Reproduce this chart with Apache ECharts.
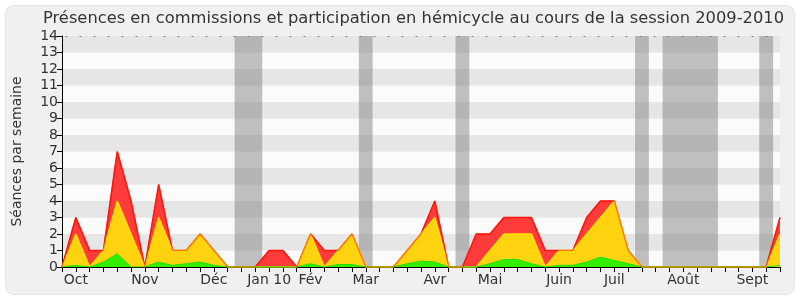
<!DOCTYPE html>
<html>
<head>
<meta charset="utf-8">
<script src="https://cdn.jsdelivr.net/npm/echarts@6/dist/echarts.min.js"></script>
<style>
html,body{margin:0;padding:0;background:#ffffff;}
#c{width:800px;height:300px;}
</style>
</head>
<body>
<div id="c"></div>
<script>
// Week indices 0..52 (session 2009-2010), labels at month starts
const monthLabels = {1:'Oct',6:'Nov',11:'Déc',15:'Jan 10',18:'Fév',22:'Mar',27:'Avr',31:'Mai',36:'Juin',40:'Juil',45:'Août',50:'Sept'};
const yTicks = [0,1,2,3,4,5,6,7,8,9,10,11,12,13,14];
// Vacation weeks (grey bands) as [from, to] in week units
const vacations = [[12.5,14.5],[21.5,22.5],[28.5,29.5],[41.5,42.5],[43.5,47.5],[50.5,51.5]];
// Total presences (red)
const presences = [0,3,1,1,7,4,0,5,1,1,2,1,0,0,0,1,1,0,2,1,1,2,0,0,0,1,2,4,0,0,2,2,3,3,3,1,1,1,3,4,4,1,0,0,0,0,0,0,0,0,0,0,3];
// Commission presences (yellow)
const commissions = [0,2,0,1,4,2,0,3,1,1,2,1,0,0,0,0,0,0,2,0,1,2,0,0,0,1,2,3,0,0,0,1,2,2,2,0,1,1,2,3,4,1,0,0,0,0,0,0,0,0,0,0,2];
// Hemicycle participation (green)
const hemicycle = [0,0.1,0,0.3,0.8,0,0,0.3,0.1,0.2,0.3,0.1,0,0,0,0,0,0,0.2,0,0.15,0.15,0,0,0,0.2,0.35,0.3,0,0,0,0.2,0.45,0.45,0.2,0,0.1,0.1,0.3,0.6,0.4,0.2,0,0,0,0,0,0,0,0,0,0,0.1];

const toPairs = arr => arr.map((v,i)=>[i,v]);
const chart = echarts.init(document.getElementById('c'));
const FONT = 'DejaVu Sans';
chart.setOption({
  backgroundColor: 'transparent',
  animation: false,
  graphic: [{
    type: 'rect', z: -10, silent: true,
    shape: {x: 5.5, y: 5.5, width: 789, height: 289, r: 8},
    style: {fill: '#f0f0f0', stroke: '#e4e4e4', lineWidth: 1}
  }],
  title: {
    text: 'Présences en commissions et participation en hémicycle au cours de la session 2009-2010',
    left: 38, top: 6,
    textStyle: {fontFamily: FONT, fontSize: 16.3, fontWeight: 'normal', color: '#333'}
  },
  grid: {left: 62, right: 20, top: 36, bottom: 33, containLabel: false},
  xAxis: [{
    type: 'value', min: 0, max: 52, interval: 1,
    axisLine: {show: true, lineStyle: {color: '#000', width: 1}},
    axisTick: {show: true, length: 5, lineStyle: {color: '#000'}},
    axisLabel: {
      fontFamily: FONT, fontSize: 14, color: '#333', margin: 6,
      formatter: v => monthLabels[v] || ''
    },
    splitLine: {show: false}
  }, {
    type: 'value', min: 0, max: 52, interval: 1, position: 'top',
    axisLine: {show: true, lineStyle: {color: '#777', width: 1, type: [1, 13], dashOffset: -4}},
    axisTick: {show: false}, axisLabel: {show: false}, splitLine: {show: false}
  }],
  yAxis: {
    type: 'value', min: 0, max: 14, interval: 1,
    name: 'Séances par semaine', nameLocation: 'middle', nameGap: 38,
    nameTextStyle: {fontFamily: FONT, fontSize: 14, color: '#333'},
    axisLine: {show: true, lineStyle: {color: '#000', width: 1}},
    axisTick: {show: true, length: 5, lineStyle: {color: '#000'}},
    axisLabel: {fontFamily: FONT, fontSize: 14, color: '#333', margin: 4,
      formatter: v => yTicks.includes(v) ? String(v) : ''},
    splitLine: {show: false},
    splitArea: {show: true, areaStyle: {color: ['#fbfbfb', '#e6e6e6']}}
  },
  series: [{
    type: 'line', data: [], z: 1, silent: true,
    markArea: {
      silent: true,
      itemStyle: {color: 'rgba(125,125,125,0.48)'},
      data: vacations.map(([a,b]) => [{xAxis: a, yAxis: 0}, {xAxis: b, yAxis: 14}])
    }
  }, {
    name: 'Présences', type: 'line', data: toPairs(presences), z: 2,
    symbol: 'none', lineStyle: {color: '#ff1010', width: 1.5},
    areaStyle: {color: '#ff3b3b', opacity: 1}
  }, {
    name: 'Commissions', type: 'line', data: toPairs(commissions), z: 3,
    symbol: 'none', lineStyle: {color: '#ffe000', width: 1.5},
    areaStyle: {color: '#ffd30f', opacity: 1}
  }, {
    name: 'Hémicycle', type: 'line', data: toPairs(hemicycle), z: 4,
    symbol: 'none', lineStyle: {color: '#22dd00', width: 1},
    areaStyle: {color: '#33ee00', opacity: 1}
  }, {
    name: 'Présences contour', type: 'line', data: toPairs(presences), z: 5, silent: true,
    symbol: 'none', lineStyle: {color: '#ff2000', width: 1.2, opacity: 0.55}
  }]
});
</script>
</body>
</html>
